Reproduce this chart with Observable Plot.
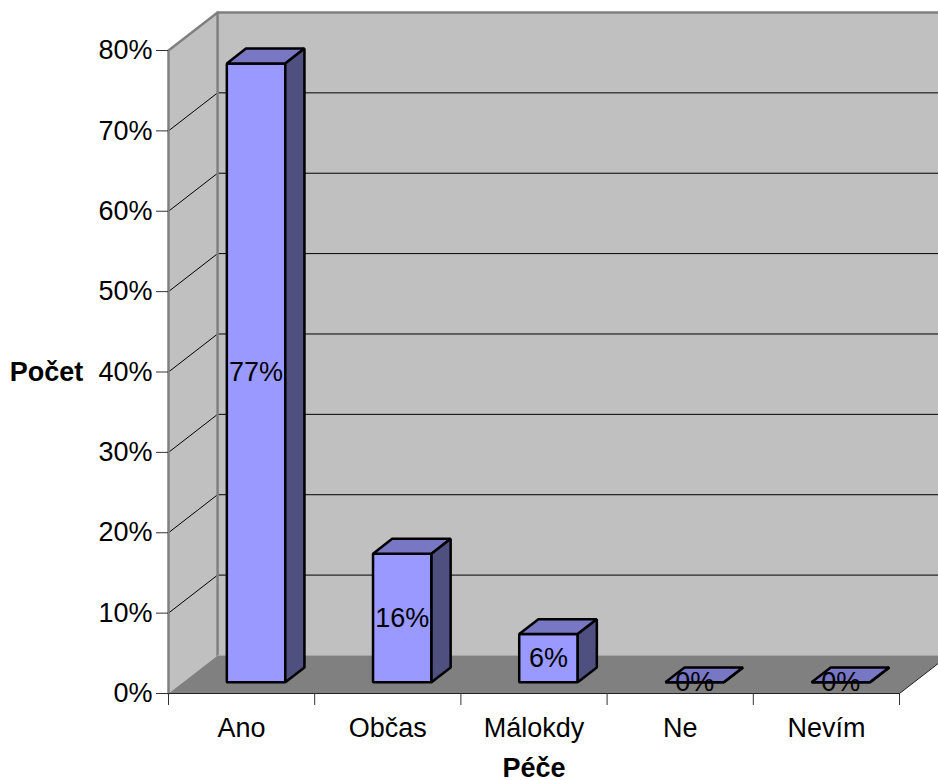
<!DOCTYPE html>
<html>
<head>
<meta charset="utf-8">
<title>Péče</title>
<style>
html,body{margin:0;padding:0;background:#fff;overflow:hidden}
svg{display:block}
</style>
<script src="https://cdn.jsdelivr.net/npm/d3@7"></script>
<script src="https://cdn.jsdelivr.net/npm/@observablehq/plot@0.6"></script>
</head>
<body>
<div id="chart"></div>
<script>
const categories = ["Ano", "Občas", "Málokdy", "Ne", "Nevím"];
const values = [77, 16, 6, 0, 0];
const yTicks = [0, 10, 20, 30, 40, 50, 60, 70, 80];
const gridValues = [10, 20, 30, 40, 50, 60, 70];
const xBoundaries = [0, 1, 2, 3, 4, 5];

// Oblique depth of the 3D box, in scale units (categories, percent)
const depthX = 0.3356, depthY = 4.73;
const frontT = 0.295, backT = 0.685;   // where a bar sits within the depth
const halfBar = 0.2;

const yMax = 80, xMax = categories.length;
const project = (x, y, t) => ({x: x + depthX * t, y: y + depthY * t});

const poly = (points, fill, stroke, strokeWidth) =>
  Plot.line(points, {x: "x", y: "y", curve: "linear-closed", fill, stroke, strokeWidth, strokeLinejoin: "miter"});
const seg = (points, stroke, strokeWidth) =>
  Plot.line(points, {x: "x", y: "y", stroke, strokeWidth});

const wallGrey = "#c0c0c0", floorGrey = "#808080", edgeGrey = "#808080";

const leftWall = [project(0,0,0), project(0,yMax,0), project(0,yMax,1), project(0,0,1)];
const backWall = [project(0,0,1), project(0,yMax,1), project(xMax,yMax,1), project(xMax,0,1)];
const floor = [project(0,0,0), project(0,0,1), project(xMax,0,1), project(xMax,0,0)];

const gridMarks = gridValues.flatMap(v => [
  seg([project(0,v,0), project(0,v,1), project(xMax,v,1)], "#000", 1)
]);

const barMarks = categories.flatMap((c, i) => {
  const v = values[i];
  const l = i + 0.5 - halfBar, r = i + 0.5 + halfBar;
  const front = [project(l,0,frontT), project(l,v,frontT), project(r,v,frontT), project(r,0,frontT)];
  const top = [project(l,v,frontT), project(l,v,backT), project(r,v,backT), project(r,v,frontT)];
  const side = [project(r,0,frontT), project(r,v,frontT), project(r,v,backT), project(r,0,backT)];
  return [
    poly(front, "#9999ff", "#000", 2.5),
    poly(top, "#7777c4", "#000", 2.5),
    poly(side, "#4f4f80", "#000", 2.5)
  ];
});

const labelRows = categories.map((c, i) => {
  const p = project(i + 0.5, values[i] / 2, frontT);
  return {x: p.x, y: p.y, label: values[i] + "%"};
});

const fontSize = 27;

const chart = Plot.plot({
  width: 938,
  height: 780,
  marginLeft: 168,
  marginRight: 39,
  marginTop: 50,
  marginBottom: 87,
  style: {fontFamily: "'Liberation Sans', Arial, sans-serif", background: "#fff", color: "#000"},
  x: {domain: [0, xMax], axis: null},
  y: {domain: [0, yMax], axis: null},
  marks: [
    poly(leftWall, wallGrey, "none", 0),
    poly(backWall, wallGrey, "none", 0),
    poly(floor, floorGrey, "none", 0),
    ...gridMarks,
    seg([project(0,0,0), project(0,yMax,0), project(0,yMax,1), project(xMax,yMax,1)], edgeGrey, 2.5),
    seg([project(0,0,1), project(0,yMax,1)], edgeGrey, 2.5),
    seg([project(0,0,1), project(xMax,0,1)], "#a6a6a6", 1),
    seg([project(0,0,0), project(xMax,0,0), project(xMax,0,1)], "#222", 1),
    Plot.axisY({
      ticks: yTicks, tickSize: 12, tickPadding: 4, label: null,
      tickFormat: d => d + "%", fontSize, stroke: "#333"
    }),
    Plot.axisX({
      ticks: xBoundaries, tickSize: 12, label: null,
      tickFormat: () => "", stroke: "#333"
    }),
    ...barMarks,
    Plot.text(labelRows, {x: "x", y: "y", text: "label", fontSize, fill: "#000"}),
    Plot.text(categories, {
      x: (d, i) => i + 0.5, y: () => 0, dy: 35, text: d => d, fontSize, fill: "#000"
    }),
    Plot.text(["Péče"], {
      x: () => xMax / 2, y: () => 0, dy: 75, text: d => d, fontSize, fontWeight: "bold", fill: "#000"
    }),
    Plot.text(["Počet"], {
      x: () => 0, y: () => 40, dx: -122, text: d => d, fontSize, fontWeight: "bold", fill: "#000"
    })
  ]
});
document.getElementById("chart").append(chart);
</script>
</body>
</html>
